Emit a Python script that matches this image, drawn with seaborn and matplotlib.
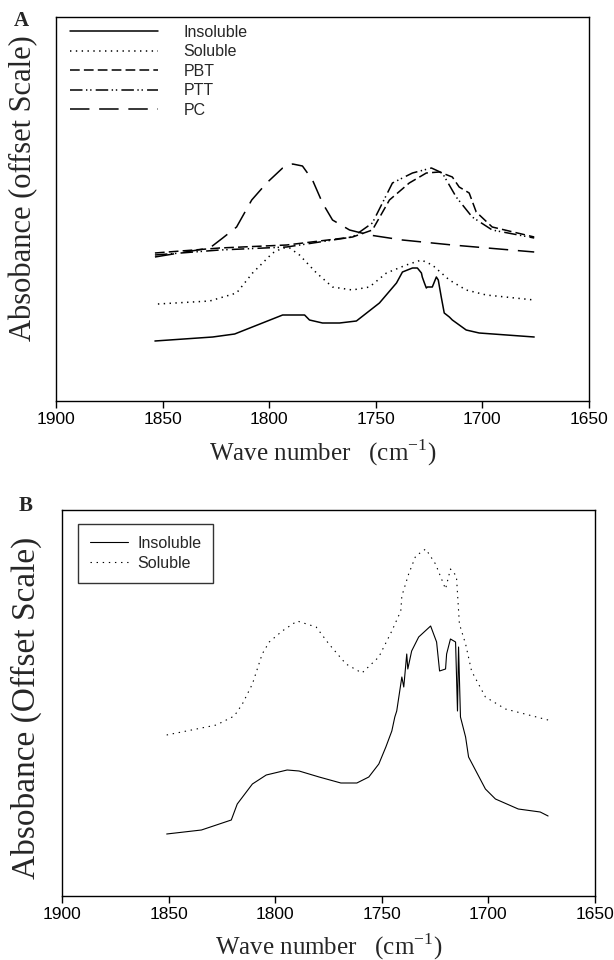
import matplotlib
matplotlib.use("Agg")
import matplotlib.pyplot as plt
import seaborn as sns
import pandas as pd

# ---------------- Panel A data ----------------
a_insol_w = [1853.6, 1826.5, 1816.2, 1793.7, 1783.4, 1781.1, 1775.0, 1767.0, 1759.1, 1748.3,
             1740.3, 1737.5, 1732.8, 1730.5, 1728.6, 1728.2, 1727.2, 1726.3, 1725.8, 1723.5,
             1721.6, 1720.7, 1719.3, 1717.9, 1715.5, 1714.1, 1707.6, 1701.5, 1675.7]
a_insol_v = [60, 64, 67, 86, 86, 81, 78, 78, 80, 98,
             118, 129, 133, 133, 128, 124, 118, 113, 114, 114,
             124, 121, 104, 88, 84, 81, 71, 68, 64]

a_sol_w = [1852.2, 1827.9, 1815.3, 1807.8, 1798.4, 1793.7, 1790.4, 1785.8, 1777.8, 1770.3,
           1761.0, 1753.0, 1745.0, 1735.7, 1728.6, 1723.5, 1715.5, 1707.6, 1698.2, 1675.7]
a_sol_v = [97, 100, 108, 128, 148, 153, 153, 146, 128, 114,
           111, 114, 128, 136, 141, 136, 121, 111, 106, 101]

a_pbt_w = [1853.6, 1823.2, 1791.8, 1760.9, 1751.6, 1743.6, 1734.3, 1726.3, 1720.2, 1714.1,
           1710.9, 1706.2, 1702.9, 1695.4, 1675.7]
a_pbt_v = [148, 153, 156, 164, 171, 201, 218, 228, 229, 224,
           214, 208, 189, 174, 164]

a_ptt_w = [1853.6, 1823.2, 1791.8, 1760.9, 1751.6, 1742.2, 1732.8, 1723.9, 1718.8, 1712.3,
           1704.8, 1695.4, 1675.7]
a_ptt_v = [146, 151, 154, 164, 178, 218, 228, 233, 228, 204,
           184, 171, 163]

a_pc_w = [1853.6, 1827.9, 1821.8, 1815.3, 1808.2, 1801.2, 1793.7, 1789.0, 1784.4, 1779.7,
          1775.0, 1770.3, 1762.3, 1753.0, 1737.5, 1714.1, 1675.7]
a_pc_v = [144, 153, 163, 174, 201, 218, 233, 237, 235, 221,
          198, 181, 171, 166, 161, 156, 149]

# ---------------- Panel B data ----------------
b_insol_w = [1850.9, 1834.6, 1820.6, 1817.8, 1810.7, 1804.2, 1794.4, 1788.8, 1779.4, 1769.2,
             1761.7, 1756.1, 1751.4, 1748.1, 1745.3, 1743.9, 1743.0, 1740.6, 1739.7, 1738.3,
             1737.8, 1736.0, 1732.7, 1727.1, 1724.3, 1722.9, 1720.1, 1719.6, 1717.8, 1715.4,
             1714.5, 1714.0, 1713.1, 1710.7, 1709.3, 1701.4, 1696.7, 1686.0, 1675.7, 1672.0]
b_insol_v = [62, 66, 76, 92, 112, 121, 126, 125, 119, 113,
             113, 119, 132, 149, 165, 179, 185, 219, 209, 242,
             227, 245, 259, 270, 254, 225, 227, 242, 257, 254,
             185, 249, 179, 159, 139, 107, 97, 87, 84, 80]

b_sol_w = [1850.9, 1836.9, 1827.6, 1819.2, 1815.4, 1810.7, 1806.1, 1802.8, 1796.7, 1789.7,
           1780.8, 1774.8, 1766.8, 1759.3, 1751.4, 1745.3, 1741.1, 1740.6, 1737.4, 1734.1,
           1729.4, 1724.8, 1720.1, 1717.8, 1715.0, 1713.6, 1710.7, 1707.9, 1701.4, 1692.0,
           1672.0]
b_sol_v = [161, 167, 171, 180, 192, 212, 242, 254, 265, 275,
           269, 252, 232, 223, 239, 265, 285, 300, 322, 340,
           347, 332, 307, 327, 320, 272, 252, 225, 199, 187,
           176]

x_ticks = [1900, 1850, 1800, 1750, 1700, 1650]

# ---------------- styling ----------------
sns.set_theme(style="white")
plt.rcParams["font.family"] = ["Liberation Sans", "DejaVu Sans"]
plt.rcParams["lines.scale_dashes"] = False
serif = ["Liberation Serif", "DejaVu Serif"]

fig = plt.figure(figsize=(6.14, 9.6), dpi=100)
axA = fig.add_axes([56 / 614, 1 - 401 / 960, (589 - 56) / 614, (401 - 17) / 960])
axB = fig.add_axes([62 / 614, 1 - 896 / 960, (595 - 62) / 614, (896 - 510) / 960])

lwA = 1.1
styles_A = [
    ("Insoluble", a_insol_w, a_insol_v, "-"),
    ("Soluble", a_sol_w, a_sol_v, (0, (1.0, 3.2))),
    ("PBT", a_pbt_w, a_pbt_v, (0, (7, 3))),
    ("PTT", a_ptt_w, a_ptt_v, (0, (9, 2.5, 1, 2, 1, 3))),
    ("PC", a_pc_w, a_pc_v, (0, (14, 7))),
]
for name, w, v, ls in styles_A:
    df = pd.DataFrame({"w": w, "v": v})
    sns.lineplot(data=df, x="w", y="v", ax=axA, color="black", linewidth=lwA,
                 linestyle=ls, label=name, estimator=None, sort=False)

lwB = 0.8
styles_B = [
    ("Insoluble", b_insol_w, b_insol_v, "-"),
    ("Soluble", b_sol_w, b_sol_v, (0, (1.0, 3.4))),
]
for name, w, v, ls in styles_B:
    df = pd.DataFrame({"w": w, "v": v})
    sns.lineplot(data=df, x="w", y="v", ax=axB, color="black", linewidth=lwB,
                 linestyle=ls, label=name, estimator=None, sort=False)

for ax, lp in ((axA, 7.5), (axB, 6.5)):
    ax.set_xlim(1900, 1650)
    ax.set_xticks(x_ticks)
    ax.set_xticklabels([str(t) for t in x_ticks], fontsize=12.5)
    ax.set_yticks([])
    ax.tick_params(axis="x", direction="out", length=5, width=1, color="black",
                   bottom=True, pad=3, labelcolor="black")
    for s in ax.spines.values():
        s.set_color("black")
        s.set_linewidth(1.0)
        s.set_visible(True)
    ax.set_xlabel(r"Wave number   (cm$^{\mathregular{-1}}$)", fontsize=18,
                  family=serif, labelpad=lp)

axA.set_ylim(0, 384)
axB.set_ylim(0, 386)
axA.set_ylabel("Absobance (offset Scale)", fontsize=22, family=serif)
axB.set_ylabel("Absobance (Offset Scale)", fontsize=24, family=serif)
axA.yaxis.set_label_coords((38 - 56) / 533, (401 - 188) / 384)
axB.yaxis.set_label_coords((42 - 62) / 533, (896 - 708) / 386)

legA = axA.legend(loc="upper left", bbox_to_anchor=(70 / 614, 1 - 25 / 960),
                  bbox_transform=fig.transFigure, frameon=False,
                  fontsize=11.5, handlelength=5.5, handletextpad=1.6, labelspacing=0.28,
                  borderpad=0, borderaxespad=0)
legB = axB.legend(loc="upper left", bbox_to_anchor=(78 / 614, 1 - 524 / 960),
                  bbox_transform=fig.transFigure, frameon=True,
                  fontsize=11.5, handlelength=2.4, handletextpad=0.55, labelspacing=0.3,
                  fancybox=False, borderpad=0.75, borderaxespad=0)
legB.get_frame().set_edgecolor("black")
legB.get_frame().set_linewidth(1.0)

fig.text(21 / 614, 1 - 21 / 960, "A", fontsize=15, fontweight="bold", family=serif,
         ha="center", va="center")
fig.text(26 / 614, 1 - 506 / 960, "B", fontsize=15, fontweight="bold", family=serif,
         ha="center", va="center")

fig.savefig("out.png", dpi=100)
